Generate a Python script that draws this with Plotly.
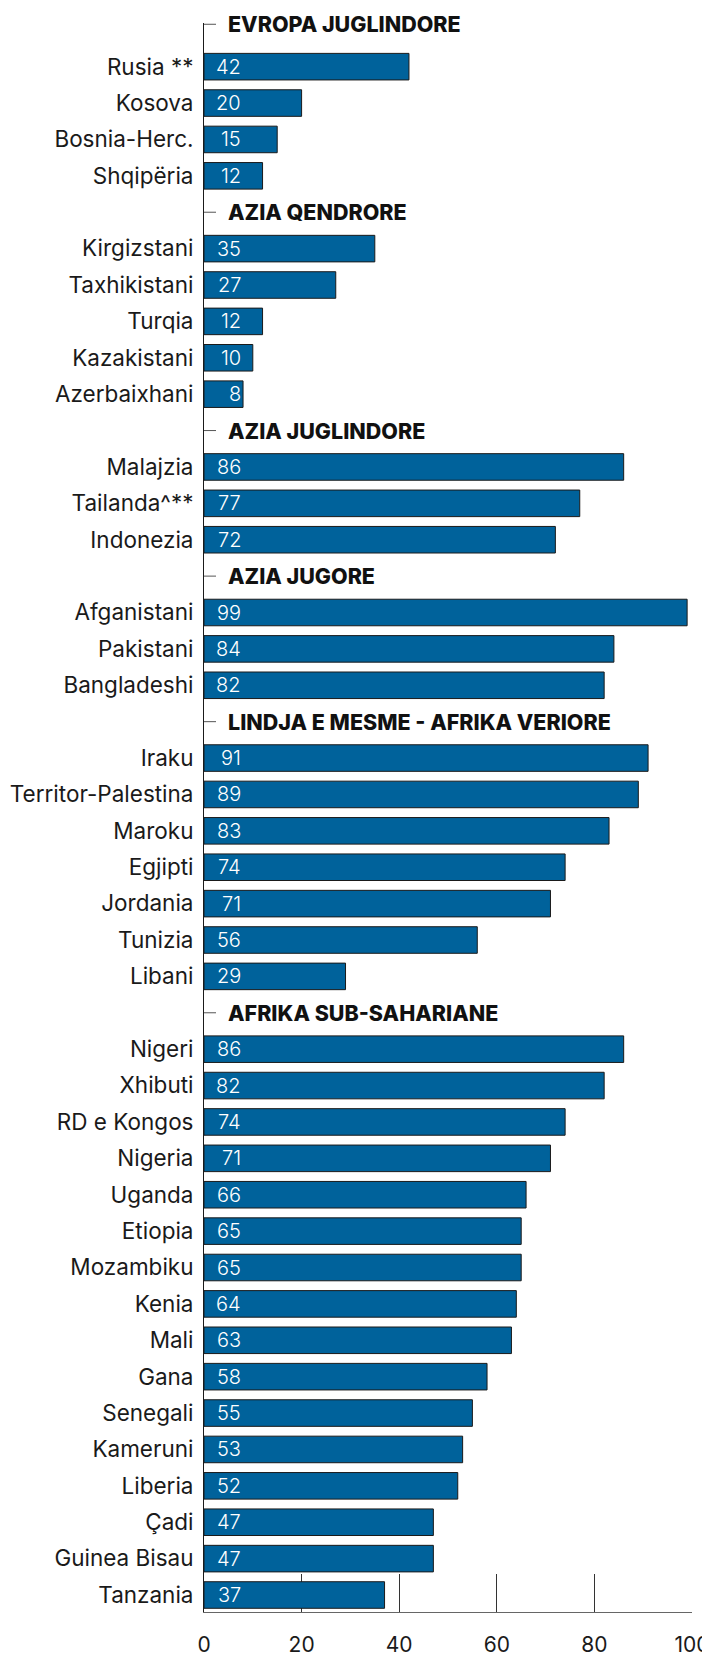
import plotly.graph_objects as go

regions = ["EVROPA JUGLINDORE", "AZIA QENDRORE", "AZIA JUGLINDORE", "AZIA JUGORE",
           "LINDJA E MESME - AFRIKA VERIORE", "AFRIKA SUB-SAHARIANE"]
countries_evropa = ["Rusia **", "Kosova", "Bosnia-Herc.", "Shqipëria"]
values_evropa = [42, 20, 15, 12]
countries_qendrore = ["Kirgizstani", "Taxhikistani", "Turqia", "Kazakistani", "Azerbaixhani"]
values_qendrore = [35, 27, 12, 10, 8]
countries_juglindore = ["Malajzia", "Tailanda^**", "Indonezia"]
values_juglindore = [86, 77, 72]
countries_jugore = ["Afganistani", "Pakistani", "Bangladeshi"]
values_jugore = [99, 84, 82]
countries_lindja = ["Iraku", "Territor-Palestina", "Maroku", "Egjipti", "Jordania", "Tunizia", "Libani"]
values_lindja = [91, 89, 83, 74, 71, 56, 29]
countries_afrika = ["Nigeri", "Xhibuti", "RD e Kongos", "Nigeria", "Uganda", "Etiopia", "Mozambiku",
                    "Kenia", "Mali", "Gana", "Senegali", "Kameruni", "Liberia", "Çadi",
                    "Guinea Bisau", "Tanzania"]
values_afrika = [86, 82, 74, 71, 66, 65, 65, 64, 63, 58, 55, 53, 52, 47, 47, 37]
x_ticks = [0, 20, 40, 60, 80, 100]

groups = [
    (countries_evropa, values_evropa),
    (countries_qendrore, values_qendrore),
    (countries_juglindore, values_juglindore),
    (countries_jugore, values_jugore),
    (countries_lindja, values_lindja),
    (countries_afrika, values_afrika),
]

# Build row layout: each region header takes one row, then its countries
header_rows = []
bar_rows, bar_names, bar_vals = [], [], []
r = 0
for (names, vals) in groups:
    header_rows.append(r)
    r += 1
    for n, v in zip(names, vals):
        bar_rows.append(r)
        bar_names.append(n)
        bar_vals.append(v)
        r += 1

BLUE = "#00629b"
FONT = "Inter"

fig = go.Figure()
fig.add_trace(go.Bar(
    x=bar_vals, y=bar_rows, orientation="h", width=0.73,
    marker=dict(color=BLUE, line=dict(color="#1a1a1a", width=1)),
    hoverinfo="x+text", hovertext=bar_names, showlegend=False,
))

annotations = []
shapes = []
for row, v in zip(bar_rows, bar_vals):
    annotations.append(dict(
        x=0, y=row, xref="x", yref="y", text=str(v), showarrow=False,
        xanchor="right", yanchor="middle", xshift=39,
        font=dict(family=FONT, size=20, color="white", weight=300),
    ))
for i, (row, name) in enumerate(zip(header_rows, regions)):
    shift = 6 if i == 0 else 0
    annotations.append(dict(
        x=0, y=row, xref="x", yref="y", text=name, showarrow=False,
        xanchor="left", yanchor="middle", xshift=22, yshift=shift,
        font=dict(family=FONT, size=21.5, color="#111111", weight=800),
    ))
    shapes.append(dict(
        type="line", xref="x", xsizemode="pixel", xanchor=0, x0=0, x1=12,
        yref="y", ysizemode="pixel", yanchor=row, y0=shift, y1=shift,
        line=dict(color="#555555", width=1),
    ))

fig.update_layout(
    width=710, height=1656,
    margin=dict(l=195.5, r=25.7, t=15, b=51.5, autoexpand=False),
    paper_bgcolor="white", plot_bgcolor="white",
    annotations=annotations, shapes=shapes,
    bargap=0.27,
    xaxis=dict(
        range=[0, 100], tickvals=x_ticks, ticks="inside", ticklen=38,
        tickcolor="#333333", tickwidth=1, showgrid=False, zeroline=False,
        showline=True, linecolor="#666666", linewidth=1, automargin=False,
        layer="below traces", ticklabelstandoff=14,
        tickfont=dict(family=FONT, size=21, color="#1a1a1a"),
        fixedrange=True,
    ),
    yaxis=dict(
        range=[43.467, -0.2], tickvals=bar_rows, ticktext=bar_names,
        showgrid=False, zeroline=False, showline=True, linecolor="#1a1a1a",
        linewidth=1, ticks="", ticklabelstandoff=5, automargin=False,
        tickfont=dict(family=FONT, size=22.5, color="#1a1a1a"),
        fixedrange=True,
    ),
)

fig.write_html("out.html")
